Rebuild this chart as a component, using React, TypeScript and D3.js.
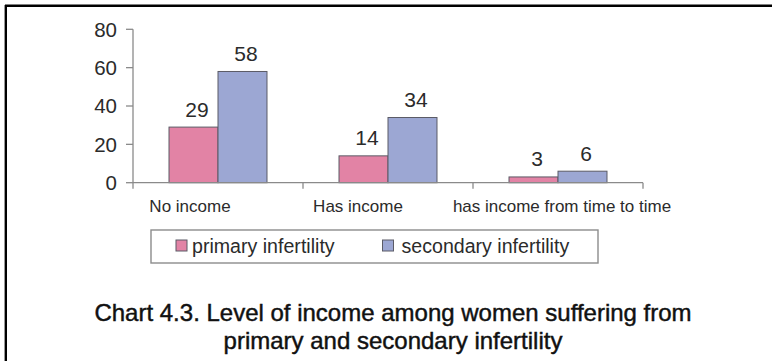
import React from "react";
import * as d3 from "d3";

// Income groups and the share of women in each, by infertility type
const categories = ["No income", "Has income", "has income from time to time"];
const seriesNames = ["primary infertility", "secondary infertility"];
const primaryValues = [29, 14, 3];
const secondaryValues = [58, 34, 6];
const yTicks = [0, 20, 40, 60, 80];
const titleLines = [
  "Chart 4.3. Level of income among women suffering from",
  "primary and secondary infertility",
];

const W = 772;
const H = 361;
const FONT = "'Liberation Sans', Arial, Helvetica, sans-serif";
const COLORS = ["#E283A5", "#9CA7D3"];
const BAR_STROKE = "#5b5b66";
const AXIS = "#8a8a8a";
const TEXT = "#2b2b2b";

// plot frame
const plot = { left: 133, right: 643, top: 29.3, bottom: 182.7 };
// horizontal nudges of the category captions relative to their band centres
const captionDx = [-28, -30, 4];

export default function App() {
  const x0 = d3
    .scaleBand<string>()
    .domain(categories)
    .range([plot.left, plot.right])
    .paddingInner(0)
    .paddingOuter(0);

  const x1 = d3
    .scaleBand<string>()
    .domain(seriesNames)
    .range([0, x0.bandwidth()])
    .paddingInner(0)
    .paddingOuter(0.735);

  const y = d3.scaleLinear().domain([0, 80]).range([plot.bottom, plot.top]);

  const rows = categories.map((c, i) => ({
    category: c,
    values: [primaryValues[i], secondaryValues[i]],
  }));

  const tickEdges = [...categories.map((c) => x0(c) as number), plot.right];

  return (
    <svg
      width={W}
      height={H}
      viewBox={`0 0 ${W} ${H}`}
      style={{ position: "absolute", left: 0, top: 0, background: "#fff" }}
      fontFamily={FONT}
    >
      <rect x={0} y={0} width={W} height={H} fill="#fff" />
      {/* outer frame: top and left edges visible */}
      <line x1={5} y1={5.8} x2={W} y2={5.8} stroke="#000" strokeWidth={2.4} />
      <line x1={5.8} y1={5} x2={5.8} y2={H} stroke="#000" strokeWidth={2.4} />

      {/* bars */}
      {rows.map((r) =>
        r.values.map((v, si) => {
          const bx = (x0(r.category) as number) + (x1(seriesNames[si]) as number);
          const by = y(v);
          return (
            <rect
              key={r.category + si}
              x={bx}
              y={by}
              width={x1.bandwidth()}
              height={plot.bottom - by}
              fill={COLORS[si]}
              stroke={BAR_STROKE}
              strokeWidth={1}
            />
          );
        })
      )}

      {/* value labels */}
      {rows.map((r) =>
        r.values.map((v, si) => {
          const cx =
            (x0(r.category) as number) + (x1(seriesNames[si]) as number) + x1.bandwidth() / 2;
          return (
            <text
              key={"v" + r.category + si}
              x={cx + 3.5}
              y={y(v) - 10.5}
              textAnchor="middle"
              fontSize={21}
              fill={TEXT}
            >
              {v}
            </text>
          );
        })
      )}

      {/* y axis */}
      <line x1={plot.left} y1={plot.top} x2={plot.left} y2={plot.bottom} stroke={AXIS} strokeWidth={1.3} />
      {yTicks.map((t) => (
        <g key={"yt" + t}>
          <line x1={plot.left - 7} y1={y(t)} x2={plot.left} y2={y(t)} stroke={AXIS} strokeWidth={1.3} />
          <text
            x={plot.left - 16}
            y={y(t)}
            dy="0.36em"
            textAnchor="end"
            fontSize={20.5}
            fill={TEXT}
          >
            {t}
          </text>
        </g>
      ))}

      {/* x axis */}
      <line x1={plot.left} y1={plot.bottom} x2={plot.right} y2={plot.bottom} stroke={AXIS} strokeWidth={1.3} />
      {tickEdges.map((tx, i) => (
        <line key={"xt" + i} x1={tx} y1={plot.bottom} x2={tx} y2={plot.bottom + 6} stroke={AXIS} strokeWidth={1.3} />
      ))}
      {categories.map((c, i) => (
        <text
          key={"c" + c}
          x={(x0(c) as number) + x0.bandwidth() / 2 + captionDx[i]}
          y={212}
          textAnchor="middle"
          fontSize={17}
          fill={TEXT}
        >
          {c}
        </text>
      ))}

      {/* legend */}
      <rect x={151} y={230} width={447} height={33} fill="#fff" stroke="#8c8c8c" strokeWidth={1.4} />
      {seriesNames.map((s, i) => {
        const lx = i === 0 ? 176 : 382.5;
        return (
          <g key={"lg" + s}>
            <rect x={lx} y={240} width={11} height={11} fill={COLORS[i]} stroke={BAR_STROKE} strokeWidth={1} />
            <text x={lx + (i === 0 ? 16 : 19)} y={253.3} fontSize={19.6} fill={TEXT}>
              {s}
            </text>
          </g>
        );
      })}

      {/* caption */}
      {titleLines.map((t, i) => (
        <text
          key={"t" + i}
          x={393}
          y={321 + i * 28}
          textAnchor="middle"
          fontSize={24}
          fill="#111"
          stroke="#111"
          strokeWidth={0.45}
        >
          {t}
        </text>
      ))}
    </svg>
  );
}
